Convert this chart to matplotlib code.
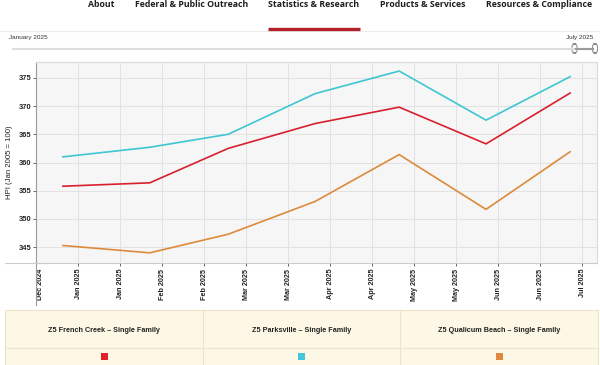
import datetime as dt
import numpy as np
import matplotlib.pyplot as plt
import matplotlib.dates as mdates
import matplotlib.transforms as mtransforms
from matplotlib.patches import Rectangle, FancyBboxPatch
from matplotlib.lines import Line2D

# --- data ---
months = ["2025-01-01", "2025-02-01", "2025-03-01", "2025-04-01",
          "2025-05-01", "2025-06-01", "2025-07-01"]
french_creek = [355.8, 356.4, 362.5, 366.9, 369.8, 363.3, 372.3]
parksville = [361.0, 362.7, 365.0, 372.2, 376.2, 367.5, 375.2]
qualicum_beach = [345.3, 344.0, 347.3, 353.1, 361.4, 351.7, 361.9]

series_names = ["Z5 French Creek \u2013 Single Family",
                "Z5 Parksville \u2013 Single Family",
                "Z5 Qualicum Beach \u2013 Single Family"]
series_colors = ["#d7202e", "#3ec6d3", "#dc8a3c"]
legend_colors = ["#e2222a", "#45c6da", "#e0883e"]

nav_items = ["About", "Federal & Public Outreach", "Statistics & Research",
             "Products & Services", "Resources & Compliance"]
y_ticks = [345, 350, 355, 360, 365, 370, 375]
slider_start = "January 2025"
slider_end = "July 2025"
y_label = "HPI (Jan 2005 = 100)"

W, H = 600, 365


def fx(px):
    return px / W


def fy(py):
    return 1 - py / H


plt.rcParams['font.family'] = ['Liberation Sans', 'DejaVu Sans']

fig = plt.figure(figsize=(W / 100, H / 100), dpi=100)
fig.patch.set_facecolor("white")

# --- nav bar ---
nav_x = [88, 135, 268, 380, 486]
for label, x in zip(nav_items, nav_x):
    fig.text(fx(x), fy(7), label, fontsize=6.3, fontweight='bold',
             family=['Open Sans', 'DejaVu Sans'], color="#1e1e1e",
             ha='left', va='baseline')
fig.add_artist(Line2D([fx(0), fx(600)], [fy(31), fy(31)], color="#ececec", lw=0.8))
fig.add_artist(Line2D([fx(268), fx(360)], [fy(29), fy(29)], color="#b3202a", lw=2.4,
                      solid_capstyle='butt'))

# --- date slider ---
fig.text(fx(9), fy(37), slider_start, fontsize=4.6, color="#333333", ha='left', va='center')
fig.text(fx(593), fy(37), slider_end, fontsize=4.6, color="#333333", ha='right', va='center')
fig.add_artist(Line2D([fx(13), fx(592)], [fy(48.5), fy(48.5)], color="#dddddd", lw=1.5))
fig.add_artist(Line2D([fx(576), fx(593)], [fy(48.5), fy(48.5)], color="#9a9a9a", lw=1.5))
for hx in (574.5, 595):
    fig.add_artist(FancyBboxPatch((fx(hx - 2.5), fy(53)), fx(5), 9 / H,
                                  boxstyle="round,pad=0,rounding_size=0.007",
                                  facecolor="white", edgecolor="#8a8a8a", lw=0.7))

# --- chart ---
x = mdates.date2num([dt.datetime.strptime(m, "%Y-%m-%d") for m in months])
pad = 9.6
x0, x1 = x[0] - pad, x[-1] + pad

ax = fig.add_axes([fx(36), fy(263), (597 - 36) / W, (263 - 62) / H])
ax.set_facecolor("#f6f6f6")
for vals, c in zip([french_creek, parksville, qualicum_beach], series_colors):
    ax.plot(x, vals, color=c, lw=1.2, solid_joinstyle='miter')

ax.set_xlim(x0, x1)
ax.set_ylim(342.2, 377.8)
ax.set_yticks(y_ticks)
ax.set_xticks(x0 + 15 * np.arange(14))
ax.xaxis.set_major_formatter(mdates.DateFormatter("%b %Y"))
ax.tick_params(axis='x', labelrotation=90, labelsize=5.2, colors="#222222",
               length=2, width=0.5, pad=2)
ax.tick_params(axis='y', labelsize=5.4, colors="#222222", length=2, width=0.5, pad=1.5)
for lab in ax.get_yticklabels() + ax.get_xticklabels():
    lab.set_fontweight('bold')
# first date label sits just right of the axis line
first = ax.get_xticklabels()[0]
first.set_transform(first.get_transform() + mtransforms.ScaledTranslation(4 / 100, 0, fig.dpi_scale_trans))
ax.grid(True, color="#e2e2e2", lw=0.7)
ax.set_axisbelow(True)
ax.spines['left'].set_color("#9a9a9a")
ax.spines['left'].set_linewidth(0.8)
ax.spines['bottom'].set_color("#cccccc")
ax.spines['bottom'].set_linewidth(0.8)
for s in ('top', 'right'):
    ax.spines[s].set_color("#dddddd")
    ax.spines[s].set_linewidth(0.9)
ax.set_ylabel(y_label, fontsize=5.6, color="#222222", labelpad=4)

# axis lines reaching out of the plot area
fig.add_artist(Line2D([fx(36), fx(36)], [fy(263), fy(305)], color="#9a9a9a", lw=0.8))
fig.add_artist(Line2D([fx(5), fx(36)], [fy(263), fy(263)], color="#cccccc", lw=0.8))

# --- legend table ---
tb_top, tb_mid, tb_bot = 310, 348, 365
fig.add_artist(Rectangle((fx(5), fy(tb_bot)), fx(593), (tb_bot - tb_top) / H,
                         facecolor="#fdf8e6", edgecolor="#ece4c8", lw=0.8))
fig.add_artist(Line2D([fx(5), fx(598)], [fy(tb_mid), fy(tb_mid)], color="#ece4c8", lw=0.8))
col_edges = [5, 203, 400, 598]
for xe in col_edges[1:-1]:
    fig.add_artist(Line2D([fx(xe), fx(xe)], [fy(tb_top), fy(tb_bot)], color="#ece4c8", lw=0.8))
for i, (name, c) in enumerate(zip(series_names, legend_colors)):
    cx = (col_edges[i] + col_edges[i + 1]) / 2
    fig.text(fx(cx), fy(330), name, fontsize=5.2, fontweight='bold', color="#222222",
             ha='center', va='center')
    fig.add_artist(Rectangle((fx(cx - 3.5), fy(359.5)), fx(7), 7 / H,
                             facecolor=c, edgecolor='none'))

fig.savefig("out.png", dpi=100)
